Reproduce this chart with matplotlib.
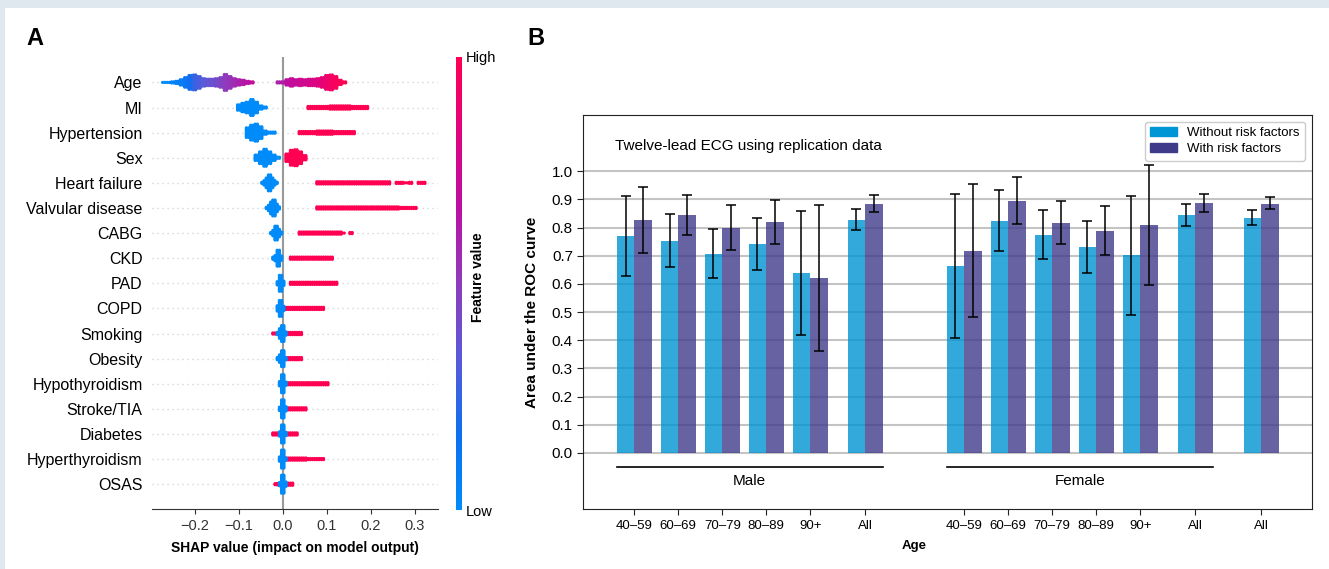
import matplotlib
matplotlib.use("Agg")
import matplotlib.pyplot as plt
import numpy as np
from matplotlib.colors import LinearSegmentedColormap
from matplotlib.cm import ScalarMappable
from matplotlib.patches import Rectangle, Patch

plt.rcParams['font.family'] = ['Liberation Sans', 'DejaVu Sans']

# ---- panel A: SHAP summary (top row first) ----
features = ["Age", "MI", "Hypertension", "Sex", "Heart failure", "Valvular disease",
            "CABG", "CKD", "PAD", "COPD", "Smoking", "Obesity", "Hypothyroidism",
            "Stroke/TIA", "Diabetes", "Hyperthyroidism", "OSAS"]

# low feature value cluster: bin centres and point counts per bin
lo_x = [
    [-0.27, -0.26, -0.25, -0.24, -0.23, -0.22, -0.21, -0.20, -0.19, -0.18, -0.17,
     -0.16, -0.15, -0.14, -0.13, -0.12, -0.11, -0.10, -0.09, -0.08, -0.07],
    [-0.10, -0.09, -0.08, -0.07, -0.06, -0.05, -0.04],
    [-0.08, -0.07, -0.06, -0.05, -0.04, -0.03, -0.02],
    [-0.06, -0.05, -0.04, -0.03, -0.02, -0.01],
    [-0.045, -0.04, -0.035, -0.03, -0.025, -0.02, -0.015],
    [-0.035, -0.03, -0.025, -0.02, -0.015, -0.01],
    [-0.025, -0.02, -0.015, -0.01, -0.005],
    [-0.02, -0.015, -0.01, -0.005],
    [-0.01, -0.005, 0.0],
    [-0.01, -0.005, 0.0],
    [-0.01, -0.005, 0.0, 0.005],
    [-0.01, -0.005, 0.0, 0.005],
    [-0.005, 0.0, 0.005],
    [-0.005, 0.0, 0.005],
    [-0.005, 0.0, 0.005],
    [-0.005, 0.0, 0.005],
    [-0.005, 0.0, 0.005],
]
lo_n = [
    [1, 1, 2, 3, 6, 10, 14, 15, 12, 8, 7, 7, 8, 10, 16, 12, 8, 6, 5, 3, 2],
    [6, 9, 11, 16, 11, 4, 2],
    [10, 15, 17, 12, 4, 2, 2],
    [6, 12, 17, 12, 6, 2],
    [2, 5, 10, 16, 10, 5, 2],
    [2, 6, 12, 16, 8, 3],
    [2, 6, 14, 8, 3],
    [3, 6, 16, 5],
    [4, 16, 5],
    [6, 16, 5],
    [3, 10, 16, 4],
    [3, 8, 16, 3],
    [5, 18, 4],
    [4, 18, 5],
    [5, 18, 4],
    [5, 18, 3],
    [4, 18, 5],
]
# high feature value cluster
hi_x = [
    [-0.01, 0.00, 0.01, 0.02, 0.03, 0.04, 0.05, 0.06, 0.07, 0.08, 0.09, 0.10,
     0.11, 0.12, 0.13, 0.14],
    [0.06, 0.07, 0.08, 0.09, 0.10, 0.11, 0.12, 0.13, 0.14, 0.15, 0.16, 0.17, 0.18, 0.19],
    [0.04, 0.05, 0.06, 0.07, 0.08, 0.09, 0.10, 0.11, 0.12, 0.13, 0.14, 0.15, 0.16],
    [0.01, 0.02, 0.03, 0.04, 0.05],
    [0.08, 0.09, 0.10, 0.11, 0.12, 0.13, 0.14, 0.15, 0.16, 0.17, 0.18, 0.19, 0.20,
     0.21, 0.22, 0.23, 0.24, 0.26, 0.27, 0.28, 0.29, 0.31, 0.32],
    [0.08, 0.09, 0.10, 0.11, 0.12, 0.13, 0.14, 0.15, 0.16, 0.17, 0.18, 0.19, 0.20,
     0.21, 0.22, 0.23, 0.24, 0.25, 0.26, 0.27, 0.28, 0.29, 0.30],
    [0.04, 0.05, 0.06, 0.07, 0.08, 0.09, 0.10, 0.11, 0.12, 0.13, 0.137, 0.155],
    [0.02, 0.03, 0.04, 0.05, 0.06, 0.07, 0.08, 0.09, 0.10, 0.11],
    [0.02, 0.03, 0.04, 0.05, 0.06, 0.07, 0.08, 0.09, 0.10, 0.11, 0.12],
    [0.01, 0.02, 0.03, 0.04, 0.05, 0.06, 0.07, 0.08, 0.09],
    [-0.02, -0.01, 0.01, 0.02, 0.03, 0.04],
    [0.01, 0.02, 0.03, 0.04],
    [0.01, 0.02, 0.03, 0.04, 0.05, 0.06, 0.07, 0.08, 0.09, 0.10],
    [0.01, 0.02, 0.03, 0.04, 0.05],
    [-0.02, -0.01, 0.01, 0.02, 0.03],
    [0.01, 0.02, 0.03, 0.04, 0.05, 0.06, 0.07, 0.08, 0.09],
    [-0.015, -0.01, 0.01, 0.02],
]
hi_n = [
    [2, 2, 6, 8, 6, 7, 6, 7, 7, 8, 10, 14, 15, 12, 5, 2],
    [3, 3, 3, 3, 3, 4, 4, 4, 4, 4, 3, 3, 3, 3],
    [3, 3, 3, 3, 4, 4, 4, 4, 3, 3, 3, 3, 3],
    [8, 15, 16, 12, 5],
    [3, 3, 3, 3, 3, 3, 3, 3, 3, 3, 3, 3, 3, 3, 3, 3, 3, 2, 2, 1, 2, 2, 2],
    [3, 3, 3, 3, 3, 3, 3, 3, 3, 3, 3, 3, 3, 3, 3, 3, 3, 3, 3, 2, 2, 2, 2],
    [3, 3, 3, 3, 3, 3, 3, 3, 3, 3, 1, 2],
    [3, 3, 3, 3, 3, 3, 3, 3, 3, 3],
    [3, 3, 3, 3, 3, 3, 3, 3, 3, 3, 3],
    [3, 3, 3, 3, 3, 3, 3, 3, 3],
    [2, 2, 3, 3, 3, 3],
    [3, 3, 3, 3],
    [3, 3, 3, 3, 3, 3, 3, 3, 3, 3],
    [3, 3, 3, 3, 3],
    [3, 3, 3, 3, 3],
    [3, 3, 3, 3, 3, 2, 2, 2, 2],
    [2, 2, 3, 3],
]
# Age is continuous: feature value (0 = low, 1 = high) per bin
age_lo_fv = [0.0, 0.02, 0.04, 0.06, 0.08, 0.12, 0.18, 0.25, 0.3, 0.33, 0.36, 0.39,
             0.42, 0.46, 0.5, 0.53, 0.56, 0.6, 0.63, 0.66, 0.7]
age_hi_fv = [0.6, 0.63, 0.68, 0.7, 0.72, 0.74, 0.76, 0.78, 0.8, 0.83, 0.86, 0.9,
             0.93, 0.96, 0.98, 1.0]

# ---- panel B: AUC bars ----
age_groups = ["40–59", "60–69", "70–79", "80–89", "90+", "All",
              "40–59", "60–69", "70–79", "80–89", "90+", "All", "All"]
auc_without = [0.769, 0.754, 0.708, 0.742, 0.639, 0.827,
               0.664, 0.824, 0.774, 0.732, 0.703, 0.844, 0.836]
auc_without_lo = [0.630, 0.660, 0.622, 0.650, 0.420, 0.792,
                  0.408, 0.716, 0.688, 0.640, 0.490, 0.805, 0.810]
auc_without_hi = [0.911, 0.849, 0.795, 0.836, 0.859, 0.866,
                  0.920, 0.934, 0.862, 0.822, 0.914, 0.883, 0.863]
auc_with = [0.827, 0.845, 0.800, 0.820, 0.620, 0.884,
            0.717, 0.896, 0.817, 0.788, 0.808, 0.886, 0.885]
auc_with_lo = [0.710, 0.774, 0.719, 0.742, 0.363, 0.854,
               0.482, 0.812, 0.743, 0.702, 0.597, 0.854, 0.866]
auc_with_hi = [0.945, 0.917, 0.879, 0.898, 0.881, 0.915,
               0.955, 0.980, 0.894, 0.878, 1.021, 0.921, 0.908]
group_pos = np.array([0, 1, 2, 3, 4, 5.25, 7.5, 8.5, 9.5, 10.5, 11.5, 12.75, 14.25])

cmap = LinearSegmentedColormap.from_list(
    "shap_rb", ["#008bfb", "#0d6ff0", "#5a5ad8", "#8e3cbd", "#bb0fa3", "#e0037e", "#ff0052"])

W, H = 1329, 569
fig = plt.figure(figsize=(W / 100, H / 100), dpi=100)
fig.patch.set_facecolor("#dfe7ef")
fig.add_artist(Rectangle((4.5 / W, 0), 1, 1 - 7.5 / H, transform=fig.transFigure,
                         facecolor="white", edgecolor="none", zorder=-10))


def swarm(xs, ns, row, fv=None, default_fv=0.0):
    px, py, pc = [], [], []
    for i, (x, n) in enumerate(zip(xs, ns)):
        for dx in (-0.0025, 0.0025):
            for k in range(n):
                px.append(x + dx)
                py.append(row + (k - (n - 1) / 2) * 0.042)
                pc.append(fv[i] if fv is not None else default_fv)
    return px, py, pc


axA = fig.add_axes([152.3 / W, 1 - 509.3 / H, 286 / W, 452 / H])
nf = len(features)
axA.axvline(0, color="#999999", lw=1.5, zorder=0)
for i, name in enumerate(features):
    row = nf - 1 - i
    axA.axhline(row, color="#cccccc", lw=1, dashes=(0.8, 2.8), zorder=-1)
    hx, hy, hc = swarm(hi_x[i], hi_n[i], row, age_hi_fv if i == 0 else None, 1.0)
    lx, ly, lc = swarm(lo_x[i], lo_n[i], row, age_lo_fv if i == 0 else None, 0.0)
    axA.scatter(hx, hy, c=hc, cmap=cmap, vmin=0, vmax=1, s=5.5, linewidths=0, zorder=3)
    axA.scatter(lx, ly, c=lc, cmap=cmap, vmin=0, vmax=1, s=5.5, linewidths=0, zorder=3)

axA.set_xlim(-0.296, 0.353)
axA.set_ylim(-1, nf)
axA.set_yticks(range(nf))
axA.set_yticklabels(features[::-1], fontsize=11.5)
axA.tick_params(axis="y", length=0, pad=7)
axA.set_xticks([-0.2, -0.1, 0.0, 0.1, 0.2, 0.3])
axA.tick_params(axis="x", labelsize=10.5, color="#333333", labelcolor="#333333")
for s in ["left", "right", "top"]:
    axA.spines[s].set_visible(False)
axA.spines["bottom"].set_color("#333333")
axA.set_xlabel("SHAP value (impact on model output)", fontsize=10, fontweight="bold", labelpad=6)

axC = fig.add_axes([456 / W, 1 - 510 / H, 6 / W, 453.3 / H])
cb = fig.colorbar(ScalarMappable(cmap=cmap), cax=axC, ticks=[0, 1])
cb.set_ticklabels(["Low", "High"])
cb.outline.set_visible(False)
axC.tick_params(length=0, labelsize=10.5, pad=3)
fig.text(478 / W, 1 - 277 / H, "Feature value", rotation=90, ha="center", va="center",
         fontsize=10, fontweight="bold")

# ---- panel B ----
axB = fig.add_axes([583.3 / W, 1 - 509.3 / H, 728.4 / W, 394.3 / H])
axB.set_axisbelow(True)
axB.yaxis.grid(True, color="#c4c4c4", lw=1.5)
err_kw = dict(ecolor="black", elinewidth=1.1, capthick=1.1)
axB.bar(group_pos - 0.2, auc_without, 0.4, color="#0093d3", alpha=0.8, linewidth=0,
        yerr=[np.array(auc_without) - np.array(auc_without_lo),
              np.array(auc_without_hi) - np.array(auc_without)],
        capsize=3.5, error_kw=err_kw)
axB.bar(group_pos + 0.2, auc_with, 0.4, color="#413c8c", alpha=0.8, linewidth=0,
        yerr=[np.array(auc_with) - np.array(auc_with_lo),
              np.array(auc_with_hi) - np.array(auc_with)],
        capsize=3.5, error_kw=err_kw)

axB.set_xlim(-1.16, 15.4)
axB.set_ylim(-0.2, 1.2)
axB.set_yticks([i / 10 for i in range(11)])
axB.set_yticklabels(["%.1f" % (i / 10) for i in range(11)], fontsize=11)
axB.set_xticks(group_pos)
axB.set_xticklabels(age_groups, fontsize=9.5)
axB.tick_params(length=4, color="#222222")
for s in axB.spines.values():
    s.set_color("#222222")
axB.set_ylabel("Area under the ROC curve", fontsize=11, fontweight="bold", labelpad=9)
axB.set_xlabel("Age", fontsize=9.5, fontweight="bold")
axB.xaxis.set_label_coords(0.454, -0.078)

for a, b, name in [(0, 5, "Male"), (6, 11, "Female")]:
    x0, x1 = group_pos[a] - 0.4, group_pos[b] + 0.4
    axB.plot([x0, x1], [-0.05, -0.05], color="black", lw=1.2)
    axB.text((x0 + x1) / 2, -0.1, name, ha="center", va="center", fontsize=11)

axB.text(-0.44, 1.09, "Twelve-lead ECG using replication data", fontsize=11, va="center")
axB.legend(handles=[Patch(color="#0096d6", label="Without risk factors"),
                    Patch(color="#3f3b8a", label="With risk factors")],
           loc="upper right", fontsize=9.5, frameon=True, edgecolor="#cccccc",
           framealpha=1, borderaxespad=0.5, handlelength=2.0, labelspacing=0.3)

fig.text(26 / W, 1 - 45 / H, "A", fontsize=17, fontweight="bold", va="baseline")
fig.text(527 / W, 1 - 45 / H, "B", fontsize=17, fontweight="bold", va="baseline")

fig.savefig("out.png", dpi=100, facecolor=fig.get_facecolor())
